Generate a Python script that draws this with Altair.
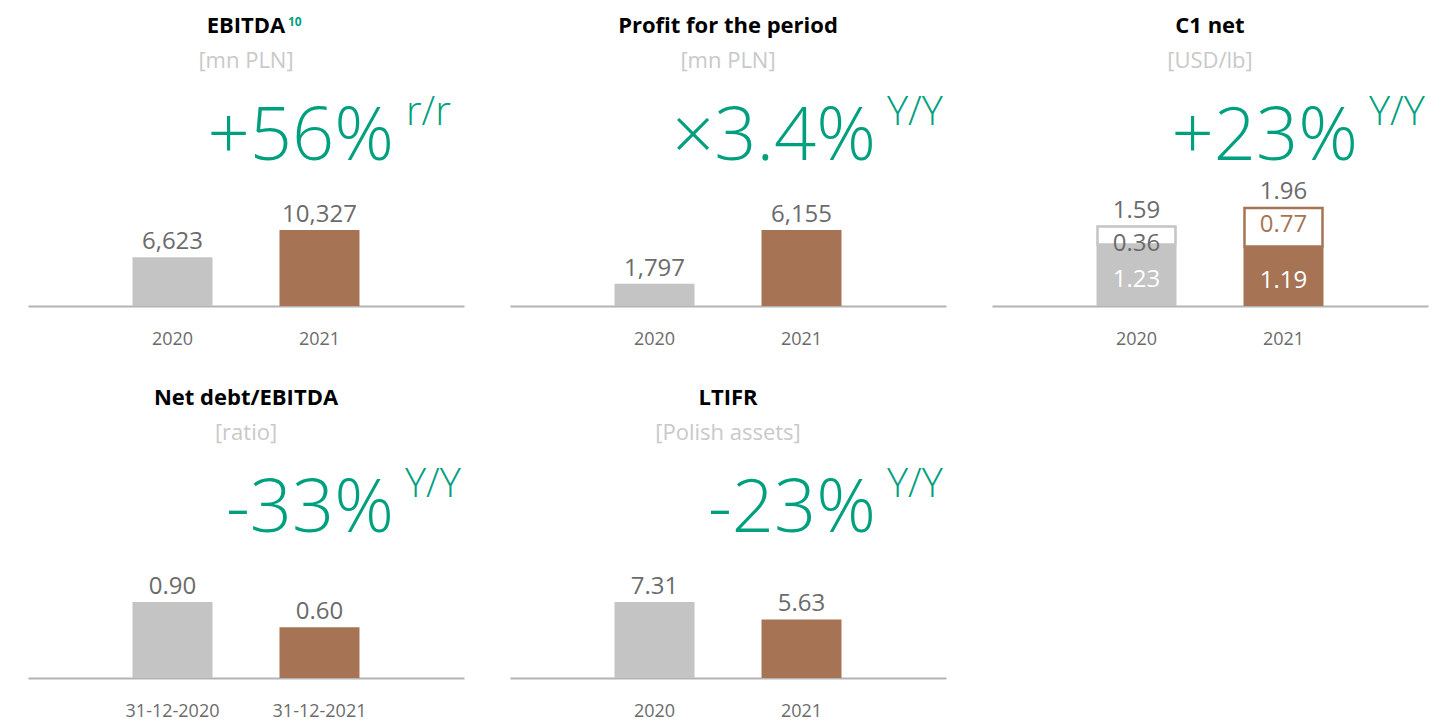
import altair as alt
import pandas as pd

# ---------------- data ----------------
years = ["2020", "2021"]
kinds = ["prev", "curr"]
ebitda = [6623, 10327]
profit = [1797, 6155]
c1_base = [1.23, 1.19]
c1_extra = [0.36, 0.77]
c1_total = [1.59, 1.96]
debt_dates = ["31-12-2020", "31-12-2021"]
net_debt = [0.90, 0.60]
ltifr = [7.31, 5.63]

titles = ["EBITDA", "Profit for the period", "C1 net", "Net debt/EBITDA", "LTIFR"]
subtitles = ["[mn PLN]", "[mn PLN]", "[USD/lb]", "[ratio]", "[Polish assets]"]
changes = ["+56%", "×3.4%", "+23%", "-33%", "-23%"]
change_units = ["r/r", "Y/Y", "Y/Y", "Y/Y", "Y/Y"]

# ---------------- style ----------------
FONT = "Open Sans"
GREEN = "#00a07f"
BROWN = "#a67454"
GRAY = "#c4c4c4"
TXT = "#6b6b6b"
SUB = "#c9c9c9"
LINE = "#b3b3b3"
W, H = 436, 293
PX_MAX = 76  # pixel height of tallest simple bar


def text_layer(txt, x, y, size, color, weight="normal", align="center"):
    return alt.Chart(pd.DataFrame({"t": [txt]})).mark_text(
        font=FONT, fontSize=size, color=color, fontWeight=weight,
        align=align, baseline="alphabetic"
    ).encode(text="t:N", x=alt.value(x), y=alt.value(y))


def xenc(order):
    return alt.X(
        "cat:N", sort=order,
        scale=alt.Scale(paddingInner=0.456, paddingOuter=0.711),
        axis=alt.Axis(title=None, ticks=False, labelAngle=0, labelFont=FONT,
                      labelFontSize=18, labelColor=TXT, labelPadding=24,
                      domainColor=LINE, domainWidth=2),
    )


def headers(i, sup=None):
    layers = [
        text_layer(titles[i], W / 2, 20, 22, "#000000", "bold"),
        text_layer(subtitles[i], W / 2, 55, 22, SUB),
        text_layer(changes[i], 366, 147, 74, GREEN, 300, "right"),
        text_layer(change_units[i], 378 if change_units[i] == "r/r" else 377, 112, 40, GREEN, 300, "left"),
    ]
    if sup:
        layers.append(text_layer(sup, 260, 13, 12, GREEN, "bold", "left"))
    return layers


def simple_panel(i, cats, vals, fmt, sup=None):
    df = pd.DataFrame({"cat": cats, "value": vals, "kind": kinds})
    dmax = max(vals) * H / PX_MAX
    y = alt.Y("value:Q", scale=alt.Scale(domain=[0, dmax], nice=False, zero=True), axis=None)
    base = alt.Chart(df).encode(x=xenc(cats), y=y)
    bars = base.mark_bar(size=80).encode(
        color=alt.condition("datum.kind == 'curr'", alt.value(BROWN), alt.value(GRAY))
    )
    labels = base.mark_text(font=FONT, fontSize=24, color=TXT, baseline="alphabetic", dy=-8).encode(
        text=alt.Text("value:Q", format=fmt)
    )
    return alt.layer(bars, labels, *headers(i, sup)).properties(width=W, height=H)


def c1_panel(i):
    df = pd.DataFrame({"cat": years, "base": c1_base, "extra": c1_extra,
                       "total": c1_total, "kind": kinds})
    df["mid_low"] = df["base"] / 2
    ys = alt.Scale(domain=[0, H / 50.0], nice=False, zero=True)
    base = alt.Chart(df).encode(x=xenc(years))
    low = base.mark_bar(size=80).encode(
        y=alt.Y("base:Q", scale=ys, axis=None),
        color=alt.condition("datum.kind == 'curr'", alt.value(BROWN), alt.value(GRAY)),
    )
    high = base.mark_bar(size=78, fill="white", strokeWidth=2.5).encode(
        y=alt.Y("base:Q", scale=ys, axis=None), y2="total:Q",
        stroke=alt.condition("datum.kind == 'curr'", alt.value(BROWN), alt.value(GRAY)),
    )
    tot = base.mark_text(font=FONT, fontSize=24, color=TXT, baseline="alphabetic", dy=-9).encode(
        y=alt.Y("total:Q", scale=ys, axis=None), text=alt.Text("total:Q", format=".2f")
    )
    lowlab = base.mark_text(font=FONT, fontSize=24, color="white", baseline="middle", dy=5).encode(
        y=alt.Y("mid_low:Q", scale=ys, axis=None), text=alt.Text("base:Q", format=".2f")
    )
    # upper-segment label hangs a fixed distance below the top of the outlined box
    highlab = base.mark_text(font=FONT, fontSize=24, baseline="middle", dy=17).encode(
        y=alt.Y("total:Q", scale=ys, axis=None), text=alt.Text("extra:Q", format=".2f"),
        color=alt.condition("datum.kind == 'curr'", alt.value(BROWN), alt.value(TXT)),
    )
    return alt.layer(low, high, tot, lowlab, highlab, *headers(i)).properties(width=W, height=H)


p1 = simple_panel(0, years, ebitda, ",.0f", sup="10")
p2 = simple_panel(1, years, profit, ",.0f")
p3 = c1_panel(2)
p4 = simple_panel(3, debt_dates, net_debt, ".2f")
p5 = simple_panel(4, years, ltifr, ".2f")

chart = alt.concat(
    p1, p2, p3, p4, p5, columns=3, spacing={"row": 79, "column": 46}, bounds="flush"
).properties(
    padding={"left": 20, "top": 5, "right": 5, "bottom": 5},
    background="white",
).configure_view(stroke=None)

chart.save("out.html", embed_options={"renderer": "svg", "actions": False})
